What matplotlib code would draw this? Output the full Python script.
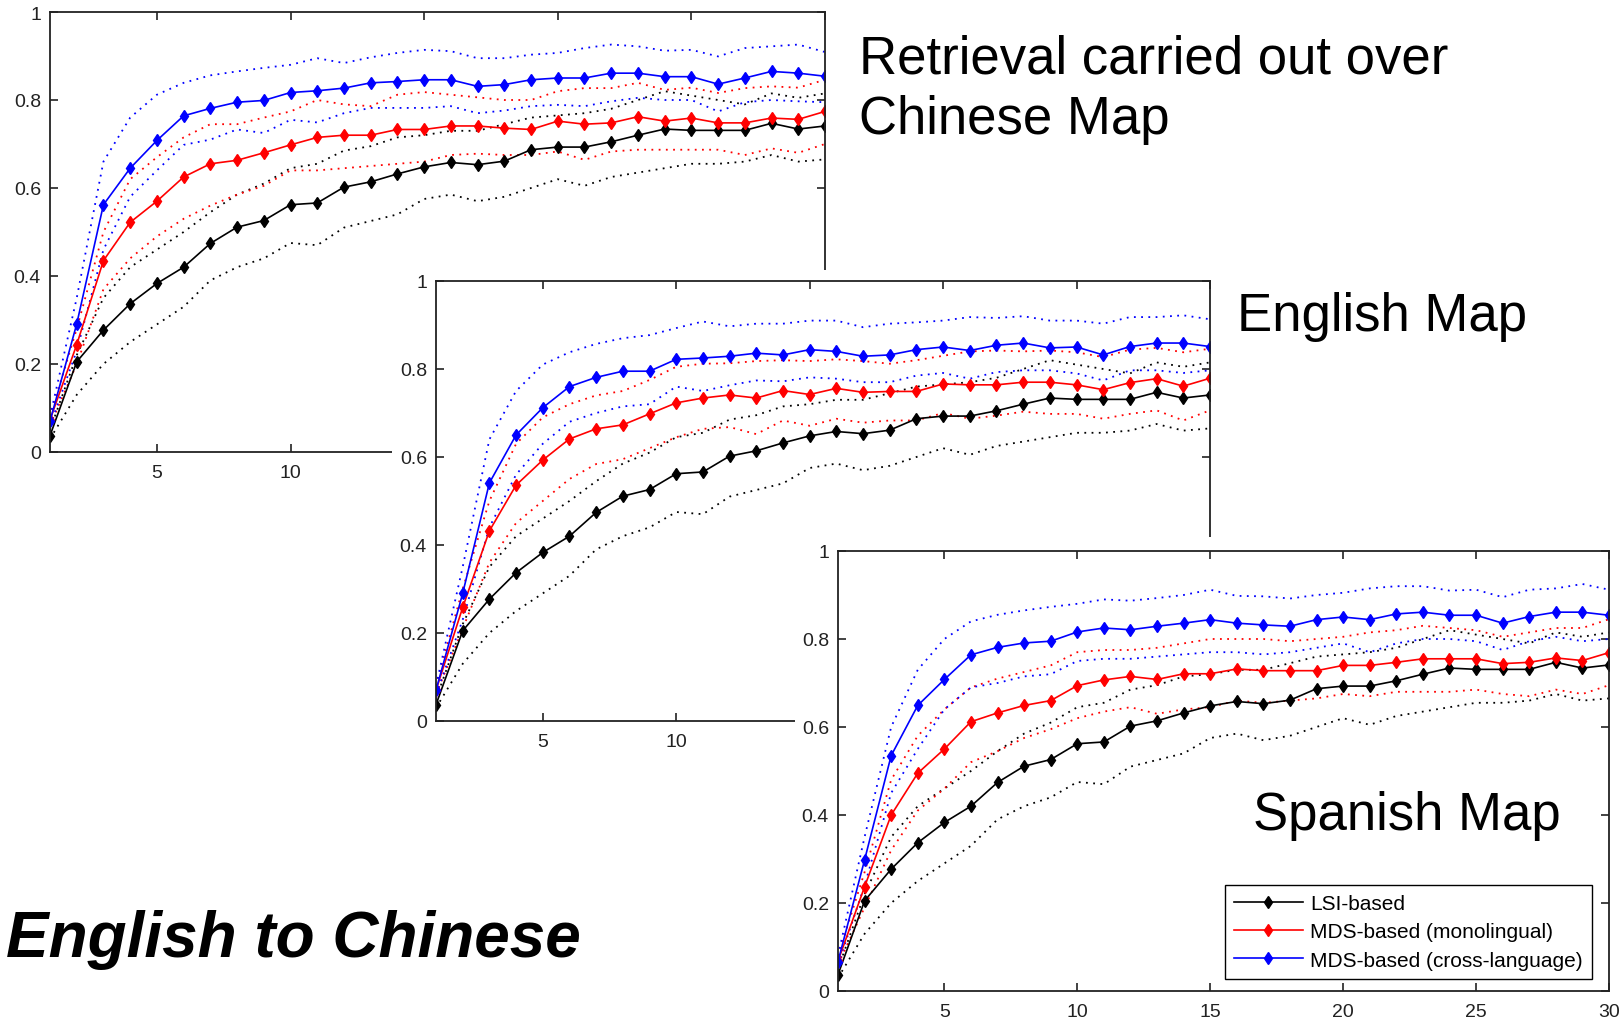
import numpy as np
import matplotlib.pyplot as plt

plt.rcParams['font.family'] = ['Liberation Sans', 'DejaVu Sans']

# Nombre de documents retournés
k = np.arange(1, 31)

# LSI (identique pour les trois cartes)
lsi = [0.037, 0.205, 0.277, 0.337, 0.383, 0.420, 0.474, 0.511, 0.526, 0.562,
       0.566, 0.602, 0.614, 0.632, 0.648, 0.658, 0.653, 0.661, 0.687, 0.693,
       0.693, 0.705, 0.720, 0.734, 0.731, 0.731, 0.731, 0.747, 0.734, 0.741]
lsi_hi = [0.05, 0.22, 0.35, 0.42, 0.46, 0.50, 0.545, 0.585, 0.61, 0.645,
          0.655, 0.685, 0.695, 0.715, 0.72, 0.73, 0.73, 0.745, 0.76, 0.765,
          0.77, 0.78, 0.80, 0.82, 0.81, 0.80, 0.79, 0.815, 0.805, 0.815]
lsi_lo = [0.03, 0.13, 0.20, 0.25, 0.29, 0.33, 0.39, 0.42, 0.44, 0.475,
          0.47, 0.51, 0.525, 0.54, 0.575, 0.585, 0.57, 0.58, 0.60, 0.62,
          0.605, 0.625, 0.635, 0.645, 0.655, 0.655, 0.66, 0.675, 0.66, 0.665]

# Carte chinoise
mono_1 = [0.073, 0.244, 0.435, 0.522, 0.570, 0.625, 0.655, 0.663, 0.680, 0.698,
          0.715, 0.720, 0.720, 0.733, 0.733, 0.741, 0.741, 0.736, 0.733, 0.752,
          0.745, 0.748, 0.762, 0.752, 0.759, 0.748, 0.748, 0.759, 0.756, 0.774]
mono_hi_1 = [0.08, 0.28, 0.50, 0.62, 0.67, 0.715, 0.745, 0.745, 0.76, 0.774,
             0.80, 0.79, 0.786, 0.812, 0.818, 0.812, 0.806, 0.80, 0.80, 0.82,
             0.827, 0.827, 0.839, 0.823, 0.828, 0.816, 0.827, 0.831, 0.828, 0.846]
mono_lo_1 = [0.06, 0.20, 0.37, 0.44, 0.49, 0.53, 0.56, 0.585, 0.605, 0.64,
             0.64, 0.645, 0.65, 0.655, 0.66, 0.675, 0.678, 0.675, 0.675, 0.683,
             0.664, 0.683, 0.687, 0.687, 0.687, 0.687, 0.675, 0.69, 0.68, 0.70]
cross_1 = [0.070, 0.291, 0.562, 0.645, 0.708, 0.764, 0.781, 0.795, 0.799, 0.817,
           0.821, 0.827, 0.839, 0.842, 0.846, 0.846, 0.831, 0.835, 0.846, 0.850,
           0.850, 0.861, 0.861, 0.853, 0.853, 0.836, 0.850, 0.865, 0.861, 0.854]
cross_hi_1 = [0.08, 0.35, 0.66, 0.76, 0.812, 0.839, 0.856, 0.865, 0.873, 0.88,
              0.895, 0.884, 0.897, 0.907, 0.914, 0.911, 0.895, 0.895, 0.903, 0.907,
              0.918, 0.926, 0.922, 0.912, 0.914, 0.899, 0.918, 0.922, 0.926, 0.909]
cross_lo_1 = [0.06, 0.23, 0.46, 0.58, 0.64, 0.698, 0.71, 0.733, 0.725, 0.755,
              0.749, 0.77, 0.782, 0.782, 0.782, 0.786, 0.77, 0.776, 0.786, 0.789,
              0.786, 0.797, 0.805, 0.80, 0.80, 0.774, 0.795, 0.80, 0.797, 0.795]

# Carte anglaise
mono_2 = [0.070, 0.258, 0.432, 0.536, 0.593, 0.641, 0.664, 0.673, 0.698, 0.723,
          0.734, 0.741, 0.734, 0.751, 0.742, 0.756, 0.747, 0.749, 0.749, 0.766,
          0.764, 0.764, 0.770, 0.770, 0.764, 0.753, 0.769, 0.778, 0.761, 0.779]
mono_hi_2 = [0.08, 0.30, 0.50, 0.63, 0.69, 0.72, 0.74, 0.75, 0.775, 0.805,
             0.812, 0.813, 0.818, 0.82, 0.818, 0.822, 0.818, 0.812, 0.82, 0.83,
             0.84, 0.842, 0.84, 0.842, 0.838, 0.827, 0.844, 0.848, 0.838, 0.846]
mono_lo_2 = [0.06, 0.21, 0.36, 0.45, 0.50, 0.55, 0.584, 0.595, 0.62, 0.645,
             0.664, 0.668, 0.652, 0.683, 0.671, 0.687, 0.678, 0.683, 0.683, 0.70,
             0.687, 0.694, 0.703, 0.698, 0.698, 0.687, 0.698, 0.706, 0.683, 0.706]
cross_2 = [0.070, 0.290, 0.541, 0.650, 0.712, 0.760, 0.781, 0.795, 0.795, 0.822,
           0.825, 0.829, 0.836, 0.832, 0.844, 0.840, 0.829, 0.832, 0.844, 0.850,
           0.842, 0.854, 0.859, 0.848, 0.850, 0.832, 0.851, 0.859, 0.859, 0.851]
cross_hi_2 = [0.08, 0.35, 0.64, 0.75, 0.81, 0.838, 0.857, 0.87, 0.877, 0.893,
              0.908, 0.897, 0.903, 0.903, 0.91, 0.91, 0.895, 0.903, 0.906, 0.91,
              0.918, 0.916, 0.92, 0.91, 0.91, 0.903, 0.918, 0.918, 0.922, 0.913]
cross_lo_2 = [0.06, 0.23, 0.44, 0.56, 0.63, 0.68, 0.70, 0.715, 0.72, 0.76,
              0.75, 0.763, 0.774, 0.772, 0.781, 0.778, 0.77, 0.77, 0.785, 0.791,
              0.778, 0.793, 0.797, 0.797, 0.79, 0.774, 0.797, 0.797, 0.791, 0.797]

# Carte espagnole
mono_3 = [0.068, 0.237, 0.400, 0.495, 0.550, 0.612, 0.632, 0.649, 0.660, 0.694,
          0.707, 0.715, 0.708, 0.721, 0.721, 0.732, 0.728, 0.728, 0.728, 0.740,
          0.740, 0.747, 0.755, 0.755, 0.755, 0.744, 0.747, 0.757, 0.751, 0.769]
mono_hi_3 = [0.08, 0.27, 0.48, 0.58, 0.64, 0.69, 0.71, 0.725, 0.74, 0.77,
             0.775, 0.775, 0.78, 0.79, 0.80, 0.80, 0.80, 0.795, 0.80, 0.805,
             0.815, 0.82, 0.83, 0.825, 0.82, 0.805, 0.815, 0.825, 0.825, 0.845]
mono_lo_3 = [0.06, 0.19, 0.32, 0.41, 0.46, 0.52, 0.545, 0.575, 0.595, 0.62,
             0.635, 0.645, 0.63, 0.64, 0.645, 0.66, 0.655, 0.66, 0.665, 0.675,
             0.67, 0.68, 0.68, 0.68, 0.685, 0.675, 0.67, 0.685, 0.675, 0.695]
cross_3 = [0.067, 0.298, 0.535, 0.649, 0.708, 0.764, 0.781, 0.791, 0.795, 0.816,
           0.825, 0.821, 0.829, 0.836, 0.844, 0.836, 0.832, 0.829, 0.844, 0.850,
           0.844, 0.857, 0.861, 0.854, 0.854, 0.836, 0.851, 0.861, 0.861, 0.854]
cross_hi_3 = [0.08, 0.35, 0.60, 0.73, 0.80, 0.84, 0.855, 0.865, 0.873, 0.88,
              0.89, 0.887, 0.893, 0.90, 0.912, 0.898, 0.897, 0.892, 0.90, 0.905,
              0.915, 0.92, 0.92, 0.91, 0.912, 0.895, 0.912, 0.915, 0.925, 0.912]
cross_lo_3 = [0.06, 0.24, 0.45, 0.55, 0.64, 0.69, 0.70, 0.715, 0.72, 0.75,
              0.755, 0.755, 0.76, 0.765, 0.77, 0.77, 0.765, 0.77, 0.78, 0.79,
              0.77, 0.79, 0.80, 0.80, 0.795, 0.775, 0.795, 0.805, 0.795, 0.80]

labels = ['LSI-based', 'MDS-based (monolingual)', 'MDS-based (cross-language)']
xticks = [5, 10, 15, 20, 25, 30]
yticks = [0, 0.2, 0.4, 0.6, 0.8, 1]
ytick_labels = ['0', '0.2', '0.4', '0.6', '0.8', '1']

W, H = 1623, 1020
fig = plt.figure(figsize=(W / 100, H / 100), dpi=100)


def boite(x0, y0, x1, y1):
    # pixels (origine en haut a gauche) -> fraction de figure
    return [x0 / W, 1 - y1 / H, (x1 - x0) / W, (y1 - y0) / H]


def fond(x0, y0):
    # fond blanc qui cache le graphique d'en dessous
    bg = fig.add_axes(boite(x0, y0, W, H))
    bg.set_facecolor('white')
    bg.set_xticks([])
    bg.set_yticks([])
    for s in bg.spines.values():
        s.set_visible(False)


def panneau(rect, mono, mono_hi, mono_lo, cross, cross_hi, cross_lo,
            n_xlabels=6, legende=False):
    ax = fig.add_axes(rect)
    series = [(lsi, lsi_hi, lsi_lo, 'k'),
              (mono, mono_hi, mono_lo, 'r'),
              (cross, cross_hi, cross_lo, 'b')]
    # intervalles en pointillés
    for m, hi, lo, c in series:
        ax.plot(k, hi, ls=(0, (1, 3)), color=c, lw=1.3)
        ax.plot(k, lo, ls=(0, (1, 3)), color=c, lw=1.3)
    # moyennes
    for (m, hi, lo, c), lab in zip(series, labels):
        ax.plot(k, m, '-d', color=c, lw=1.2, ms=6, label=lab)
    ax.set_xlim(1, 30)
    ax.set_ylim(0, 1)
    # les étiquettes cachées par le graphique suivant ne sont pas écrites
    ax.set_xticks(xticks)
    ax.set_xticklabels([str(t) if i < n_xlabels else ''
                        for i, t in enumerate(xticks)])
    ax.set_yticks(yticks)
    ax.set_yticklabels(ytick_labels)
    ax.tick_params(direction='in', top=True, right=True, length=6, width=1.2,
                   labelsize=14, colors='#222222')
    ax.tick_params(axis='x', pad=8.5)
    ax.tick_params(axis='y', pad=6.5)
    for s in ax.spines.values():
        s.set_linewidth(1.3)
        s.set_color('#222222')
    if legende:
        ax.legend(loc='lower right', bbox_to_anchor=(1 - 17 / 771, 12 / 440),
                  borderaxespad=0, fontsize=15, fancybox=False, framealpha=1,
                  edgecolor='k', handlelength=3.3, handletextpad=0.35,
                  labelspacing=0.45, borderpad=0.45, numpoints=1)
    return ax


panneau(boite(50, 13, 825, 453), mono_1, mono_hi_1, mono_lo_1,
        cross_1, cross_hi_1, cross_lo_1, n_xlabels=2)
fond(392, 271)
panneau(boite(436, 282, 1210, 722), mono_2, mono_hi_2, mono_lo_2,
        cross_2, cross_hi_2, cross_lo_2, n_xlabels=2)
fond(795, 538)
panneau(boite(838, 552, 1609, 992), mono_3, mono_hi_3, mono_lo_3,
        cross_3, cross_hi_3, cross_lo_3, legende=True)

fig.text(859 / W, 1 - 73 / H, 'Retrieval carried out over', fontsize=38, va='baseline')
fig.text(859 / W, 1 - 134 / H, 'Chinese Map', fontsize=38, va='baseline')
fig.text(1237 / W, 1 - 331 / H, 'English Map', fontsize=38, va='baseline')
fig.text(1253 / W, 1 - 830 / H, 'Spanish Map', fontsize=38, va='baseline')
fig.text(6 / W, 1 - 957 / H, 'English to Chinese', fontsize=46, va='baseline',
         fontweight='bold', fontstyle='italic')

fig.savefig('out.png', dpi=100)
